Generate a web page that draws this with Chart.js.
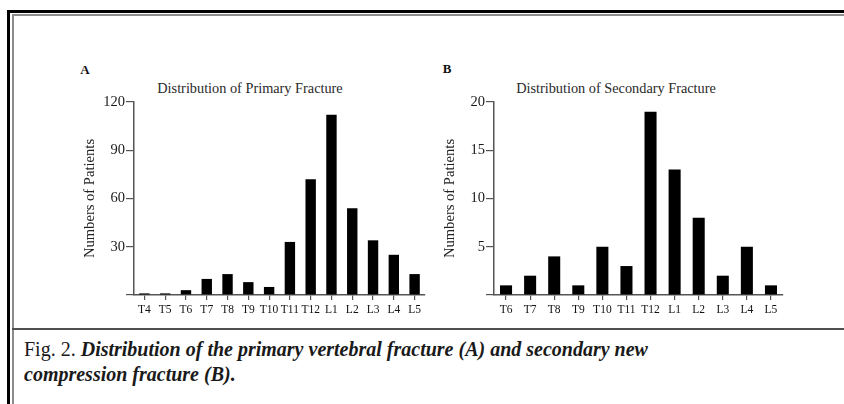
<!DOCTYPE html>
<html>
<head>
<meta charset="utf-8">
<script src="https://cdn.jsdelivr.net/npm/chart.js@4.4.1/dist/chart.umd.min.js"></script>
<style>
  body { margin: 0; background: #fff; width: 844px; height: 404px; overflow: hidden; position: relative; font-family: "Liberation Serif", "Times New Roman", serif; }
  .frame-outer { position: absolute; left: 7px; top: 10px; right: -20px; bottom: -20px; border-left: 3px solid #000; border-top: 3px solid #000; }
  .frame-inner { position: absolute; left: 12px; top: 14px; right: -20px; bottom: -20px; border-left: 2px solid #8c8c8c; border-top: 2px solid #8c8c8c; }
  .sep { position: absolute; left: 12px; right: 0; top: 328px; height: 2px; background: #505050; }
  canvas { position: absolute; }
  .lbl { position: absolute; transform: translate(-50%, -50%); white-space: nowrap; line-height: 1; color: #222; }
  .panel { font-weight: bold; font-size: 13px; color: #111; }
  .ttl { font-size: 14.3px; color: #2a2a2a; }
  .caption { position: absolute; left: 24px; top: 337px; font-size: 20px; line-height: 25px; color: #1a1a1a; }
  .caption i { font-weight: bold; }
</style>
</head>
<body>
<div class="frame-outer"></div>
<div class="frame-inner"></div>
<div class="sep"></div>

<div class="lbl panel" style="left:85px; top:69px;">A</div>
<div class="lbl ttl" style="left:250px; top:88px;">Distribution of Primary Fracture</div>
<canvas id="chartA" width="380" height="270" style="left:60px; top:60px;"></canvas>

<div class="lbl panel" style="left:447px; top:68px;">B</div>
<div class="lbl ttl" style="left:616px; top:88px;">Distribution of Secondary Fracture</div>
<canvas id="chartB" width="380" height="270" style="left:420px; top:60px;"></canvas>

<div class="caption">Fig. 2. <i>Distribution of the primary vertebral fracture (A) and secondary new<br>compression fracture (B).</i></div>

<script>
// panel A - primary fracture
var levelsA = ["T4", "T5", "T6", "T7", "T8", "T9", "T10", "T11", "T12", "L1", "L2", "L3", "L4", "L5"];
var patientsA = [1, 1, 3, 10, 13, 8, 5, 33, 72, 112, 54, 34, 25, 13];
var yTicksA = [0, 30, 60, 90, 120];

// panel B - secondary fracture
var levelsB = ["T6", "T7", "T8", "T9", "T10", "T11", "T12", "L1", "L2", "L3", "L4", "L5"];
var patientsB = [1, 2, 4, 1, 5, 3, 19, 13, 8, 2, 5, 1];
var yTicksB = [0, 5, 10, 15, 20];

var serif = '"Liberation Serif", "Times New Roman", serif';
var axisColor = '#555';

function drawBars(ele, labels, values, yTicks, padRight) {
    var ctx = document.getElementById(ele).getContext('2d');

    var chartData = {
        labels: labels,
        datasets: [
            {
                label: 'Numbers of Patients',
                data: values,
                backgroundColor: '#000',
                borderWidth: 0,
                categoryPercentage: 1,
                barPercentage: 0.5
            }
        ]
    };

    var options = {
        responsive: false,
        animation: false,
        devicePixelRatio: 1,
        layout: { padding: { top: 42, right: padRight, bottom: 0, left: 0 } },
        plugins: {
            legend: { display: false },
            tooltip: { enabled: false },
            title: { display: false }
        },
        scales: {
            x: {
                grid: { drawOnChartArea: false, offset: false, tickLength: 5, color: axisColor, lineWidth: 1.2 },
                border: { color: axisColor, width: 1.5 },
                ticks: { font: { family: serif, size: 11.5 }, color: '#111', padding: 3, autoSkip: false, maxRotation: 0 },
                afterFit: function (s) { s.height = 35; }
            },
            y: {
                min: yTicks[0],
                max: yTicks[yTicks.length - 1],
                afterBuildTicks: function (s) {
                    s.ticks = yTicks.map(function (v) { return { value: v }; });
                },
                grid: { drawOnChartArea: false, tickLength: 8, color: axisColor, lineWidth: 1.2 },
                border: { color: axisColor, width: 1.5 },
                ticks: {
                    font: { family: serif, size: 14.5 },
                    color: '#1a1a1a',
                    padding: 1,
                    callback: function (v) { return v === 0 ? '' : v; }
                },
                title: {
                    display: true,
                    text: 'Numbers of Patients',
                    font: { family: serif, size: 14.6 },
                    color: '#222',
                    padding: { top: 21, bottom: 0 }
                },
                afterFit: function (s) { s.width = 74; }
            }
        }
    };

    return new Chart(ctx, { type: 'bar', data: chartData, options: options });
}

drawBars('chartA', levelsA, patientsA, yTicksA, 15);
drawBars('chartB', levelsB, patientsB, yTicksB, 17);
</script>
</body>
</html>
